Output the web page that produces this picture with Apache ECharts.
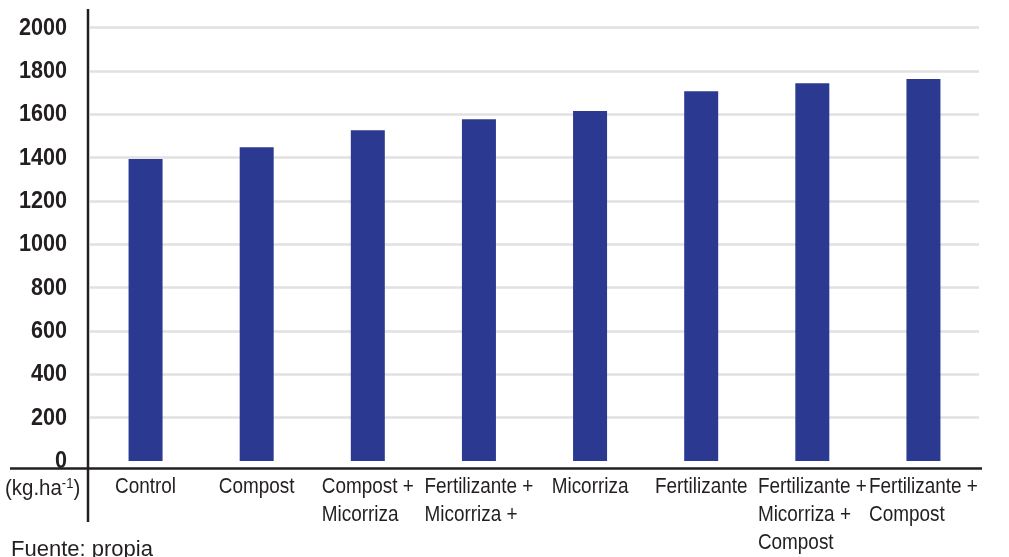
<!DOCTYPE html>
<html>
<head>
<meta charset="utf-8">
<script src="https://cdn.jsdelivr.net/npm/echarts@6/dist/echarts.min.js"></script>
<style>
html,body{margin:0;padding:0;background:#fff;}
#chart{width:1009px;height:557px;}
</style>
</head>
<body>
<div id="chart"></div>
<script>
var categories = [
  "Control",
  "Compost",
  "Compost +\nMicorriza",
  "Fertilizante +\nMicorriza +",
  "Micorriza",
  "Fertilizante",
  "Fertilizante +\nMicorriza +\nCompost",
  "Fertilizante +\nCompost"
];
var values = [1393, 1447, 1526, 1577, 1615, 1706, 1743, 1762];
var yTicks = [0, 200, 400, 600, 800, 1000, 1200, 1400, 1600, 1800, 2000];
var unitLabel = "(kg.ha{sup|-1})";
var sourceNote = "Fuente: propia";

var chart = echarts.init(document.getElementById('chart'), null, {renderer: 'canvas'});
var FONT = "'Liberation Sans', Arial, Helvetica, sans-serif";
var TXT = '#231f20';

function richLines(v) {
  return v.split('\n').map(function (l) { return '{l|' + l + '}'; }).join('\n');
}

chart.setOption({
  animation: false,
  backgroundColor: '#ffffff',
  grid: {left: 90, right: 30, top: 27.5, bottom: 96, containLabel: false},
  xAxis: {
    type: 'category',
    data: categories,
    axisLine: {show: false},
    axisTick: {show: false},
    axisLabel: {show: false},
    splitLine: {show: false}
  },
  yAxis: {
    type: 'value',
    min: yTicks[0],
    max: yTicks[yTicks.length - 1],
    interval: 200,
    axisLine: {show: false},
    axisTick: {show: false},
    axisLabel: {show: false},
    splitLine: {show: true, showMinLine: false, lineStyle: {color: '#e1e1e1', width: 2.5}}
  },
  series: [{
    type: 'bar',
    data: values,
    barWidth: 34,
    itemStyle: {color: '#2b3990'}
  }, {
    // category labels (condensed look via scaleX)
    type: 'custom',
    silent: true,
    z: 10,
    data: categories.map(function (c, i) { return [i, 0]; }),
    encode: {x: 0, y: 1},
    renderItem: function (params, api) {
      var i = api.value(0);
      var p = api.coord([i, 0]);
      return {
        type: 'text',
        x: p[0], y: p[1] + 12,
        scaleX: 0.86,
        style: {
          text: richLines(categories[i]),
          font: '22px ' + FONT,
          fill: TXT,
          align: 'center',
          verticalAlign: 'top',
          lineHeight: 28,
          rich: {l: {align: 'left', fontSize: 22, fontFamily: FONT, lineHeight: 28, fill: TXT}}
        }
      };
    }
  }, {
    // y tick labels
    type: 'custom',
    silent: true,
    z: 10,
    data: yTicks.map(function (v) { return [0, v]; }),
    encode: {x: 0, y: 1},
    renderItem: function (params, api) {
      var v = api.value(1);
      var p = api.coord([0, v]);
      return {
        type: 'text',
        x: 67, y: p[1] + 0.5,
        scaleX: 0.9,
        style: {
          text: String(v),
          font: 'bold 24px ' + FONT,
          fill: TXT,
          align: 'right',
          verticalAlign: 'middle'
        }
      };
    }
  }],
  graphic: [
    {type: 'line', shape: {x1: 88, y1: 9, x2: 88, y2: 522}, style: {stroke: TXT, lineWidth: 2.5}, z: 100},
    {type: 'line', shape: {x1: 10, y1: 468.5, x2: 982, y2: 468.5}, style: {stroke: TXT, lineWidth: 2.5}, z: 100},
    {type: 'text', left: 5, top: 477, z: 100, scaleX: 0.93, style: {
      text: unitLabel, fill: TXT, font: '22px ' + FONT,
      rich: {sup: {fontSize: 14, fontFamily: FONT, fill: TXT, verticalAlign: 'top', padding: [0, 0, 10, 0]}}
    }},
    {type: 'text', left: 11, top: 539, z: 100, style: {text: sourceNote, fill: TXT, font: '22px ' + FONT}}
  ]
});
</script>
</body>
</html>
